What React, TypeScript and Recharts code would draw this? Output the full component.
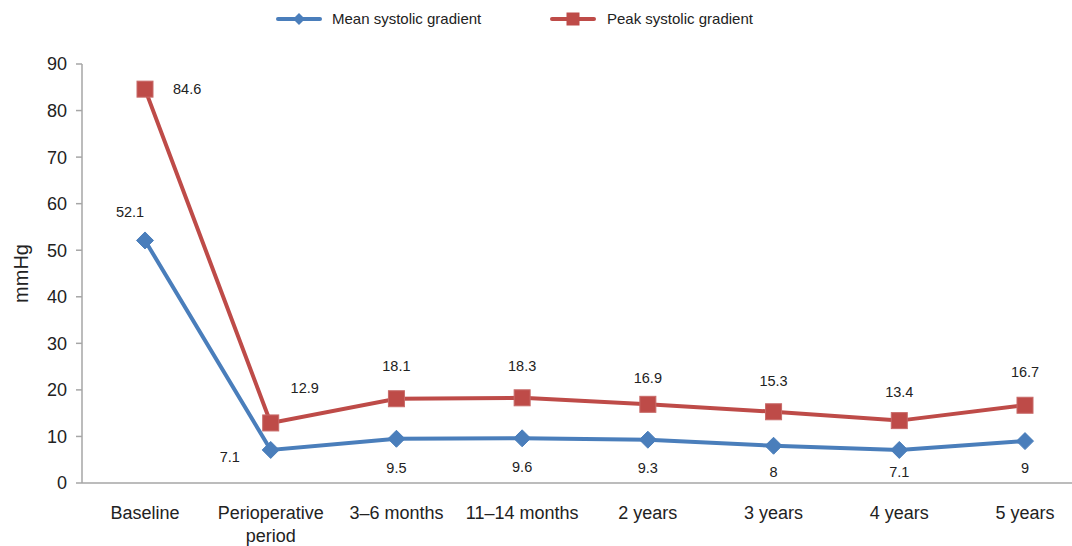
import React from 'react';
import { LineChart, Line, XAxis, YAxis, Legend, LabelList } from 'recharts';

const categories = [
  'Baseline',
  'Perioperative period',
  '3–6 months',
  '11–14 months',
  '2 years',
  '3 years',
  '4 years',
  '5 years',
];
const meanValues = [52.1, 7.1, 9.5, 9.6, 9.3, 8, 7.1, 9];
const peakValues = [84.6, 12.9, 18.1, 18.3, 16.9, 15.3, 13.4, 16.7];
const yTicks = [0, 10, 20, 30, 40, 50, 60, 70, 80, 90];

// label placement (layout only)
const meanLabelDx = [-15, -41, 0, 0, 0, 0, 0, 0];
const meanLabelDy = [-29, 7, 29, 28, 28, 26, 22, 27];
const peakLabelDx = [28, 34, 0, 0, 0, 0, 0, 0];
const peakLabelDy = [0, -35, -33, -32, -27, -31, -29, -33];

const data = categories.map((c, i) => ({ category: c, mean: meanValues[i], peak: peakValues[i] }));

const BLUE = '#4a7ebb';
const RED = '#be4b48';
const FONT = '"Liberation Sans", Arial, Helvetica, sans-serif';
const TEXT = '#222';

const Diamond = (props: any) => {
  const { cx, cy } = props;
  if (cx == null || cy == null) return null;
  const r = 8.5;
  return <path d={`M${cx},${cy - r}L${cx + r},${cy}L${cx},${cy + r}L${cx - r},${cy}Z`} fill={BLUE} stroke={BLUE} strokeWidth={1} />;
};

const Square = (props: any) => {
  const { cx, cy } = props;
  if (cx == null || cy == null) return null;
  const s = 16;
  return <rect x={cx - s / 2} y={cy - s / 2} width={s} height={s} fill={RED} stroke="#c86a68" strokeWidth={1} />;
};

const makeLabel = (dxArr: number[], dyArr: number[], startIdx: number[]) => (props: any) => {
  const { x, y, value, index } = props;
  const anchor = startIdx.includes(index) ? 'start' : 'middle';
  return (
    <text
      x={x + dxArr[index]}
      y={y + dyArr[index]}
      dy="0.36em"
      textAnchor={anchor}
      fontSize={14.5}
      fontFamily={FONT}
      fill={TEXT}
    >
      {value}
    </text>
  );
};

const XTick = (props: any) => {
  const { x, y, payload } = props;
  const val: string = payload.value;
  let lines = [val];
  if (val.length > 14) {
    const k = val.lastIndexOf(' ');
    lines = [val.slice(0, k), val.slice(k + 1)];
  }
  return (
    <text x={x} y={y} textAnchor="middle" fontSize={18} fontFamily={FONT} fill={TEXT}>
      {lines.map((l, i) => (
        <tspan key={i} x={x} dy={i === 0 ? 36 : 23}>
          {l}
        </tspan>
      ))}
    </text>
  );
};

const LegendContent = (props: any) => {
  const { payload } = props;
  const items = payload || [];
  const pos = [
    { lx: 278, tx: 332 },
    { lx: 552, tx: 607 },
  ];
  return (
    <svg width={1072} height={40} style={{ display: 'block' }}>
      {items.map((it: any, i: number) => {
        const p = pos[i] || pos[0];
        const cy = 19;
        const cx = p.lx + 21;
        const isMean = it.dataKey === 'mean';
        return (
          <g key={i}>
            <line x1={p.lx} y1={cy} x2={p.lx + 42} y2={cy} stroke={it.color} strokeWidth={4} strokeLinecap="round" />
            {isMean ? (
              <path d={`M${cx},${cy - 6}L${cx + 6},${cy}L${cx},${cy + 6}L${cx - 6},${cy}Z`} fill={BLUE} />
            ) : (
              <rect x={cx - 6.5} y={cy - 6.5} width={13} height={13} fill={RED} />
            )}
            <text x={p.tx} y={cy} dy="0.36em" fontSize={15} fontFamily={FONT} fill={TEXT}>
              {it.value}
            </text>
          </g>
        );
      })}
    </svg>
  );
};

export default function App() {
  return (
    <div style={{ position: 'absolute', left: 0, top: 0, width: 1072, height: 546, overflow: 'hidden', background: '#fff' }}>
      <LineChart width={1100} height={546} data={data} margin={{ top: 64, right: 12, bottom: 0, left: 0 }}>
        <Legend
          verticalAlign="middle"
          align="center"
          layout="horizontal"
          content={<LegendContent />}
          wrapperStyle={{ position: 'absolute', top: 0, left: 0, width: 1072, height: 40 }}
        />
        <XAxis
          dataKey="category"
          scale="point"
          padding={{ left: 63, right: 63 }}
          height={63}
          tickLine={false}
          tickSize={0}
          tickMargin={0}
          axisLine={{ stroke: '#a6a6a6', strokeWidth: 1.5 }}
          tick={<XTick />}
          interval={0}
        />
        <YAxis
          width={82}
          domain={[0, 90]}
          ticks={yTicks}
          interval={0}
          tickSize={6}
          tickMargin={9}
          axisLine={{ stroke: '#a6a6a6', strokeWidth: 1.5 }}
          tickLine={{ stroke: '#a6a6a6', strokeWidth: 1.5 }}
          tick={{ fontSize: 18, fontFamily: FONT, fill: TEXT }}
          label={(lp: any) => {
            const vb = lp.viewBox || {};
            const cy = (vb.y || 64) + (vb.height || 419) / 2;
            return (
              <text
                x={21}
                y={cy}
                transform={`rotate(-90 21 ${cy})`}
                textAnchor="middle"
                dy="0.36em"
                fontSize={20}
                fontFamily={FONT}
                fill={TEXT}
              >
                mmHg
              </text>
            );
          }}
        />
        <Line
          type="linear"
          dataKey="mean"
          name="Mean systolic gradient"
          stroke={BLUE}
          strokeWidth={4}
          dot={<Diamond />}
          activeDot={false}
          isAnimationActive={false}
        >
          <LabelList dataKey="mean" content={makeLabel(meanLabelDx, meanLabelDy, [])} />
        </Line>
        <Line
          type="linear"
          dataKey="peak"
          name="Peak systolic gradient"
          stroke={RED}
          strokeWidth={4}
          dot={<Square />}
          activeDot={false}
          isAnimationActive={false}
        >
          <LabelList dataKey="peak" content={makeLabel(peakLabelDx, peakLabelDy, [0])} />
        </Line>
      </LineChart>
    </div>
  );
}
